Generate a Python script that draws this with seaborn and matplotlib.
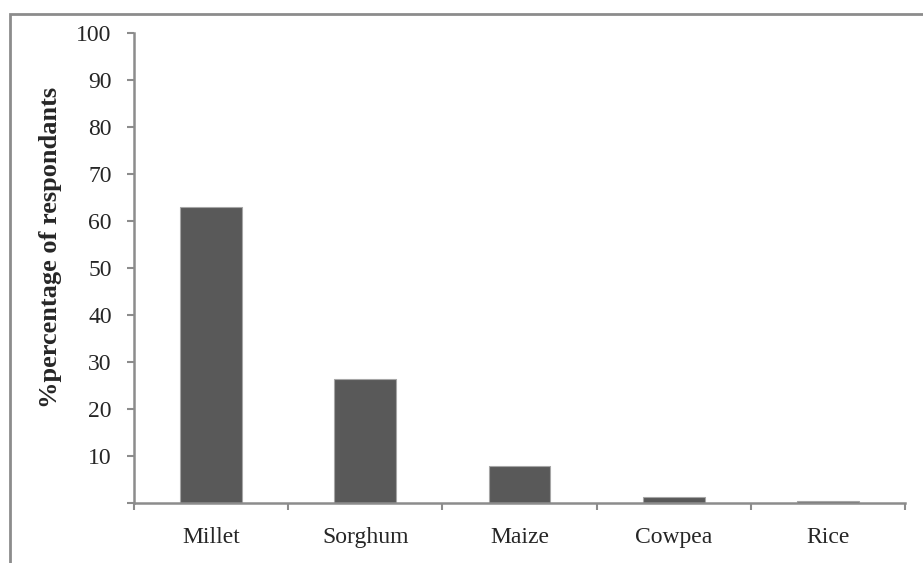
import matplotlib
matplotlib.use('Agg')
import matplotlib.pyplot as plt
import seaborn as sns
import pandas as pd
from matplotlib.patches import Rectangle

# Data
crops = ['Millet', 'Sorghum', 'Maize', 'Cowpea', 'Rice']
percent = [62.9, 26.4, 7.9, 1.3, 0.5]

sns.set_theme(style='white')
plt.rcParams['font.family'] = ['Liberation Serif', 'DejaVu Serif']

df = pd.DataFrame({'crop': crops, 'pct': percent})

fig = plt.figure(figsize=(9.23, 5.63), dpi=100)
ax = fig.add_axes([134 / 923, 1 - 503 / 563, (905 - 134) / 923, (503 - 33) / 563])

sns.barplot(data=df, x='crop', y='pct', color='#595959', width=0.40,
            edgecolor='#a6a6a6', linewidth=0.8, saturation=1, ax=ax)

axis_col = '#8c8c8c'
ax.set_ylim(0, 100)
ax.set_xlim(-0.5, len(crops) - 0.5)
ax.set_yticks(range(0, 101, 10))
ax.set_yticklabels([''] + [str(v) for v in range(10, 101, 10)])
ax.set_xticks(range(len(crops)))
ax.set_xticklabels(crops)
ax.set_xticks([i - 0.5 for i in range(len(crops) + 1)], minor=True)

for side in ['top', 'right']:
    ax.spines[side].set_visible(False)
for side in ['left', 'bottom']:
    ax.spines[side].set_color(axis_col)
    ax.spines[side].set_linewidth(1.8)

ax.tick_params(axis='y', which='major', direction='out', length=5, width=1.5,
               color=axis_col, labelsize=17, pad=11, left=True)
ax.tick_params(axis='x', which='major', length=0, labelsize=17, pad=17)
ax.tick_params(axis='x', which='minor', direction='out', length=5, width=1.5,
               color=axis_col, bottom=True)

ax.set_xlabel('')
ax.set_ylabel('%percentage of respondants', fontsize=19, fontweight='bold')
ax.yaxis.set_label_coords(-0.093, 0.543)

# outer chart border (cut off at right and bottom edge)
fig.patches.append(Rectangle((10 / 923, -0.1), 1.2, 1.1 - 14 / 563,
                             transform=fig.transFigure, fill=False,
                             edgecolor='#8c8c8c', linewidth=2))

fig.savefig('out.png', dpi=100)
